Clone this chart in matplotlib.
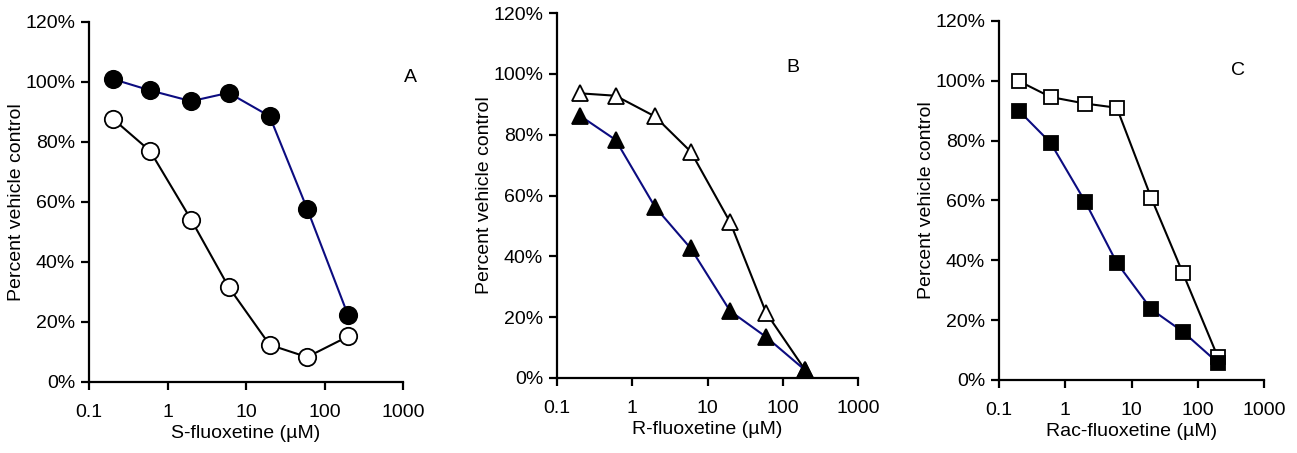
import numpy as np
import matplotlib.pyplot as plt
from matplotlib.ticker import FixedLocator, FixedFormatter, PercentFormatter, NullLocator

plt.rcParams['font.family'] = ['Liberation Sans', 'DejaVu Sans']

# Concentraciones (µM)
conc = [0.2, 0.6, 2, 6, 20, 60, 200]

# Panel A: S-fluoxetine
s_lleno = [101, 97.2, 93.6, 96.4, 88.6, 57.8, 22.2]
s_vacio = [87.8, 77, 54.1, 31.7, 12.4, 8.3, 15.2]

# Panel B: R-fluoxetine
r_vacio = [93.6, 92.8, 86, 74.4, 51.2, 21.5, 2.5]
r_lleno = [86.3, 78.3, 56.3, 42.6, 22, 13.5, 2.5]

# Panel C: Rac-fluoxetine
rac_vacio = [99.9, 94.6, 92.4, 91, 60.7, 35.6, 7.8]
rac_lleno = [90, 79.3, 59.6, 39.2, 23.6, 16.1, 5.8]

xticks = [0.1, 1, 10, 100, 1000]
xtick_labels = ["0.1", "1", "10", "100", "1000"]
yticks = [0, 20, 40, 60, 80, 100, 120]

navy = "#0c0c80"
fs = 14

fig = plt.figure(figsize=(12.97, 4.53), dpi=100)
W, H = 1297, 453

# posiciones de los ejes en pixeles (izq, der, arriba, abajo)
cajas = [(89, 403, 22, 382), (557, 858, 13, 378), (999, 1264, 21, 380)]

paneles = [
    ("S-fluoxetine (µM)", s_lleno, s_vacio, "o", 12.5, "A", (1.025, 0.847)),
    ("R-fluoxetine (µM)", r_lleno, r_vacio, "^", 12, "B", (0.784, 0.85)),
    ("Rac-fluoxetine (µM)", rac_lleno, rac_vacio, "s", 10.5, "C", (0.90, 0.863)),
]

for (l, r, t, b), (xlab, lleno, vacio, mk, ms, letra, pos) in zip(cajas, paneles):
    ax = fig.add_axes([l / W, 1 - b / H, (r - l) / W, (b - t) / H])
    ax.plot(conc, vacio, color="black", lw=1.5, marker=mk, ms=ms,
            mfc="white", mec="black", mew=1.3, zorder=3)
    ax.plot(conc, lleno, color=navy, lw=1.5, marker=mk, ms=ms,
            mfc="black", mec="black", mew=1.3, zorder=4)
    ax.set_xscale("log")
    ax.set_xlim(0.1, 1000)
    ax.set_ylim(0, 120)
    ax.xaxis.set_major_locator(FixedLocator(xticks))
    ax.xaxis.set_major_formatter(FixedFormatter(xtick_labels))
    ax.xaxis.set_minor_locator(NullLocator())
    ax.set_yticks(yticks)
    ax.yaxis.set_major_formatter(PercentFormatter(decimals=0))
    for s in ["top", "right"]:
        ax.spines[s].set_visible(False)
    for s in ["left", "bottom"]:
        ax.spines[s].set_linewidth(1.6)
    ax.tick_params(direction="out", length=6, width=1.6, labelsize=fs)
    ax.tick_params(axis="x", pad=10)
    ax.tick_params(axis="y", pad=4)
    ax.set_xlabel(xlab, fontsize=fs, labelpad=3)
    ax.set_ylabel("Percent vehicle control", fontsize=fs, labelpad=0)
    ax.text(pos[0], pos[1], letra, transform=ax.transAxes, fontsize=fs,
            ha="center", va="center")
    for line in ax.lines:
        line.set_clip_on(False)

fig.savefig("out.png", dpi=100)
